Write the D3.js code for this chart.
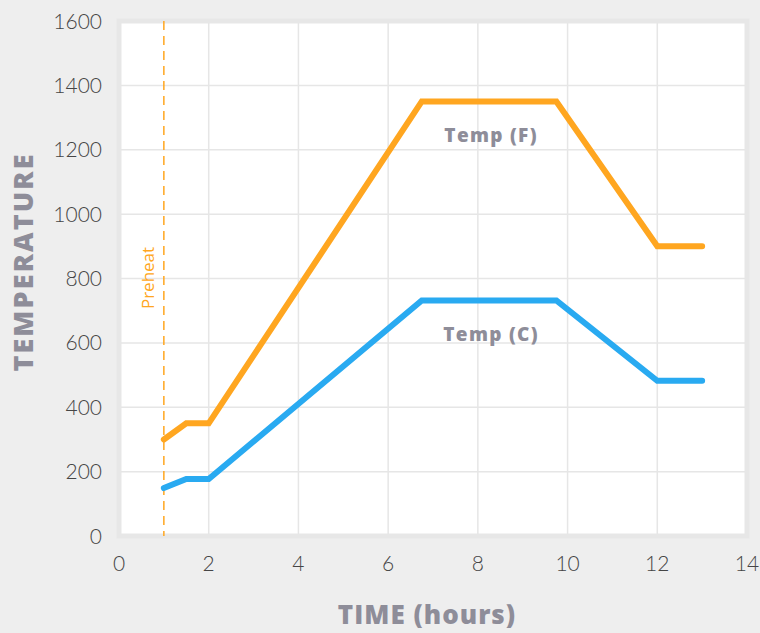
<!DOCTYPE html>
<html>
<head>
<meta charset="utf-8">
<script src="https://cdn.jsdelivr.net/npm/d3@7"></script>
<style>
  body { margin: 0; background: #eeeeee; }
  svg { display: block; }
</style>
</head>
<body>
<div class="chart"></div>
<script>
// data
const hours = [1, 1.5, 2, 6.75, 9.75, 12, 13];
const tempF = [300, 350, 350, 1350, 1350, 900, 900];
const tempC = [149, 177, 177, 732, 732, 482, 482];
const xTicks = [0, 2, 4, 6, 8, 10, 12, 14];
const yTicks = [0, 200, 400, 600, 800, 1000, 1200, 1400, 1600];
const preheatAt = 1;

const W = 760, H = 633;
const orange = "#ffa620";
const blue = "#29aaf1";
const titleColor = "#8e8d99";
const tickColor = "#454545";
const gridColor = "#e6e6e6";
const boldFont = "'Open Sans', sans-serif";

const x = d3.scaleLinear().domain([0, 14]).range([119, 747]);
const y = d3.scaleLinear().domain([0, 1600]).range([536, 21]);

const svg = d3.select(".chart").append("svg")
    .attr("width", W)
    .attr("height", H);

// plot frame
svg.append("rect")
    .attr("x", x(0))
    .attr("y", y(1600))
    .attr("width", x(14) - x(0))
    .attr("height", y(0) - y(1600))
    .attr("fill", "#ffffff")
    .attr("stroke", "#e7e7e7")
    .attr("stroke-width", 5);

// grid
svg.append("g").selectAll("line")
    .data(xTicks.slice(1, -1))
    .join("line")
    .attr("x1", d => x(d)).attr("x2", d => x(d))
    .attr("y1", y(1600) + 2).attr("y2", y(0) - 2)
    .attr("stroke", gridColor)
    .attr("stroke-width", 1.5);
svg.append("g").selectAll("line")
    .data(yTicks.slice(1, -1))
    .join("line")
    .attr("x1", x(0) + 2).attr("x2", x(14) - 2)
    .attr("y1", d => y(d)).attr("y2", d => y(d))
    .attr("stroke", gridColor)
    .attr("stroke-width", 1.5);

// tick labels
svg.append("g").selectAll("text")
    .data(yTicks)
    .join("text")
    .attr("x", 102)
    .attr("y", d => y(d))
    .attr("dy", "0.36em")
    .attr("text-anchor", "end")
    .attr("font-family", "Lato, sans-serif")
    .attr("font-weight", 300)
    .attr("font-size", 21)
    .attr("fill", tickColor)
    .text(d => d);
svg.append("g").selectAll("text")
    .data(xTicks)
    .join("text")
    .attr("x", d => x(d))
    .attr("y", 571)
    .attr("text-anchor", "middle")
    .attr("font-family", "Lato, sans-serif")
    .attr("font-weight", 300)
    .attr("font-size", 21)
    .attr("fill", tickColor)
    .text(d => d);

// axis titles
svg.append("text")
    .attr("transform", `translate(33,262) rotate(-90)`)
    .attr("text-anchor", "middle")
    .attr("font-family", boldFont)
    .attr("font-weight", 800)
    .attr("font-size", 27)
    .attr("letter-spacing", 2.1)
    .attr("fill", titleColor)
    .text("TEMPERATURE");
svg.append("text")
    .attr("x", 427)
    .attr("y", 624)
    .attr("text-anchor", "middle")
    .attr("font-family", boldFont)
    .attr("font-weight", 800)
    .attr("font-size", 26)
    .attr("letter-spacing", 1)
    .attr("fill", titleColor)
    .text("TIME (hours)");

// preheat marker
svg.append("line")
    .attr("x1", x(preheatAt)).attr("x2", x(preheatAt))
    .attr("y1", y(1600)).attr("y2", y(0))
    .attr("stroke", orange)
    .attr("stroke-width", 1.5)
    .attr("stroke-dasharray", "9,6");
svg.append("text")
    .attr("transform", `translate(${x(preheatAt) - 10},278) rotate(-90)`)
    .attr("text-anchor", "middle")
    .attr("font-family", "'Open Sans', sans-serif")
    .attr("font-size", 17)
    .attr("fill", orange)
    .text("Preheat");

// series
const line = d3.line()
    .x(d => x(d[0]))
    .y(d => y(d[1]));

const series = [
    { name: "Temp (F)", values: tempF, color: orange },
    { name: "Temp (C)", values: tempC, color: blue }
];
series.forEach(s => {
    svg.append("path")
        .datum(hours.map((h, i) => [h, s.values[i]]))
        .attr("d", line)
        .attr("fill", "none")
        .attr("stroke", s.color)
        .attr("stroke-width", 6)
        .attr("stroke-linecap", "round")
        .attr("stroke-linejoin", "miter");
    // label sits under the flat top
    svg.append("text")
        .attr("x", x((hours[3] + hours[4]) / 2) + 2)
        .attr("y", y(s.values[3]) + 41)
        .attr("text-anchor", "middle")
        .attr("font-family", boldFont)
        .attr("font-weight", 800)
        .attr("font-size", 19)
        .attr("letter-spacing", 1.3)
        .attr("fill", titleColor)
        .text(s.name);
});
</script>
</body>
</html>
